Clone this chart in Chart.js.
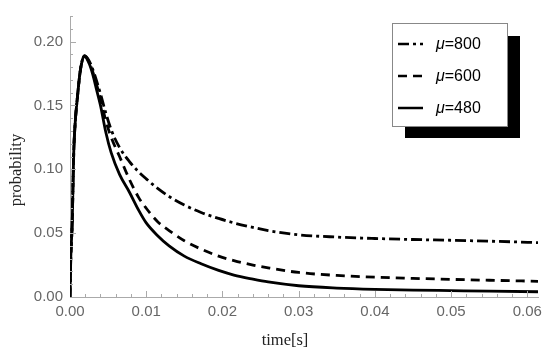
<!DOCTYPE html>
<html>
<head>
<meta charset="utf-8">
<script src="https://cdn.jsdelivr.net/npm/chart.js@4.4.1/dist/chart.umd.min.js"></script>
<style>
  html, body { margin: 0; padding: 0; background: #fff; }
  #wrap { width: 550px; height: 355px; }
</style>
</head>
<body>
<div id="wrap"><canvas id="chart" width="550" height="355"></canvas></div>
<script>
// time axis (seconds), shared by the three curves
const times = [0, 0.0001, 0.0003, 0.0004, 0.0005, 0.0007, 0.001, 0.0013, 0.0016, 0.0019,
  0.0025, 0.003, 0.0035, 0.004, 0.0047, 0.0054, 0.0065, 0.0078, 0.009, 0.01,
  0.0115, 0.013, 0.015, 0.0172, 0.0195, 0.0215, 0.024, 0.026, 0.03, 0.035,
  0.04, 0.045, 0.05, 0.055, 0.0614];

// probability
const prob800 = [0, 0.03, 0.06, 0.09, 0.115, 0.138, 0.158, 0.175, 0.185, 0.1887,
  0.185, 0.178, 0.169, 0.159, 0.144, 0.131, 0.117, 0.106, 0.098, 0.0925,
  0.085, 0.0787, 0.072, 0.0662, 0.0615, 0.058, 0.0545, 0.052, 0.0487, 0.0469,
  0.0458, 0.045, 0.0444, 0.0437, 0.0426];
const prob600 = [0, 0.03, 0.06, 0.09, 0.115, 0.138, 0.158, 0.175, 0.185, 0.1887,
  0.184, 0.176, 0.166, 0.155, 0.138, 0.125, 0.110, 0.092, 0.078, 0.0695,
  0.059, 0.052, 0.044, 0.0375, 0.032, 0.0285, 0.025, 0.0228, 0.0192, 0.0169,
  0.0155, 0.0146, 0.0138, 0.0131, 0.0123];
const prob480 = [0, 0.03, 0.06, 0.09, 0.115, 0.138, 0.158, 0.175, 0.185, 0.1887,
  0.183, 0.174, 0.162, 0.150, 0.129, 0.113, 0.096, 0.082, 0.068, 0.058,
  0.048, 0.040, 0.032, 0.026, 0.0208, 0.0172, 0.014, 0.0118, 0.0088, 0.007,
  0.006, 0.0054, 0.005, 0.0046, 0.0041];

const seriesLabels = ['800', '600', '480'];
const xTicks = [0, 0.01, 0.02, 0.03, 0.04, 0.05, 0.06];
const yTicks = [0, 0.05, 0.10, 0.15, 0.20];

const pts = arr => arr.map((v, i) => ({ x: times[i], y: v }));

const dashes = [[11, 4, 3, 4], [9, 6], []];
const tickFont = { family: '"Liberation Sans", Arial, sans-serif', size: 15 };

// ticks drawn inward, axis titles, and the boxed legend with its shadow
const decor = {
  id: 'decor',
  afterDraw(chart) {
    const ctx = chart.ctx;
    const xs = chart.scales.x, ys = chart.scales.y;
    const x0 = xs.left, y0 = ys.bottom;
    ctx.save();
    ctx.strokeStyle = '#aaa';
    ctx.lineWidth = 1;
    ctx.beginPath();
    for (let i = 1; i <= 30; i++) {
      const v = i * 0.002;
      if (v > xs.max) break;
      const px = Math.round(xs.getPixelForValue(v)) + 0.5;
      const len = i % 5 === 0 ? 6 : 3;
      ctx.moveTo(px, y0); ctx.lineTo(px, y0 - len);
    }
    for (let i = 1; i <= 22; i++) {
      const py = Math.round(ys.getPixelForValue(i * 0.01)) + 0.5;
      const len = i % 5 === 0 ? 6 : 3;
      ctx.moveTo(x0, py); ctx.lineTo(x0 + len, py);
    }
    ctx.stroke();

    // axis titles
    ctx.fillStyle = '#222';
    ctx.font = '16.5px "Liberation Serif", serif';
    ctx.textAlign = 'center';
    ctx.textBaseline = 'middle';
    ctx.fillText('time[s]', 285, 341);
    ctx.translate(17, 170);
    ctx.rotate(-Math.PI / 2);
    ctx.fillText('probability', 0, 0);
    ctx.setTransform(1, 0, 0, 1, 0, 0);

    // legend
    ctx.fillStyle = '#000';
    ctx.fillRect(405, 36, 115, 102);
    ctx.fillStyle = '#fff';
    ctx.fillRect(392, 23, 115, 103);
    ctx.strokeStyle = '#888';
    ctx.strokeRect(392.5, 23.5, 115, 103);
    chart.data.datasets.forEach((ds, i) => {
      const y = 44 + i * 32;
      ctx.strokeStyle = '#000';
      ctx.lineWidth = 2.5;
      ctx.setLineDash(ds.borderDash);
      ctx.beginPath();
      ctx.moveTo(398, y); ctx.lineTo(423, y);
      ctx.stroke();
      ctx.setLineDash([]);
      ctx.fillStyle = '#000';
      ctx.textAlign = 'left';
      ctx.font = 'italic 16px "Liberation Sans", Arial, sans-serif';
      ctx.fillText('\u03bc', 436, y + 1);
      const w = ctx.measureText('\u03bc').width;
      ctx.font = '16px "Liberation Sans", Arial, sans-serif';
      ctx.fillText('=' + seriesLabels[i], 436 + w, y + 1);
    });
    ctx.restore();
  }
};

new Chart(document.getElementById('chart'), {
  type: 'line',
  data: {
    datasets: [prob800, prob600, prob480].map((arr, i) => ({
      label: '\u03bc=' + seriesLabels[i],
      data: pts(arr),
      borderColor: '#000',
      borderWidth: 2.8,
      borderDash: dashes[i],
      pointRadius: 0,
      cubicInterpolationMode: 'monotone',
      fill: false
    }))
  },
  options: {
    responsive: false,
    animation: false,
    layout: { padding: { left: 0, right: 12, top: 10, bottom: 0 } },
    plugins: { legend: { display: false }, tooltip: { enabled: false } },
    scales: {
      x: {
        type: 'linear',
        min: 0,
        max: 0.0614,
        afterFit: s => { s.height = 58; },
        afterBuildTicks: s => { s.ticks = xTicks.map(v => ({ value: v })); },
        grid: { display: false, drawTicks: false },
        border: { display: true, color: '#aaa', width: 1 },
        ticks: {
          padding: 6,
          color: '#666',
          font: tickFont,
          maxRotation: 0,
          callback: v => v.toFixed(2)
        }
      },
      y: {
        min: 0,
        max: 0.22,
        afterFit: s => { s.width = 70; },
        afterBuildTicks: s => { s.ticks = yTicks.map(v => ({ value: v })); },
        grid: { display: false, drawTicks: false },
        border: { display: true, color: '#aaa', width: 1 },
        ticks: {
          padding: 7,
          color: '#666',
          font: tickFont,
          callback: v => v.toFixed(2)
        }
      }
    }
  },
  plugins: [decor]
});
</script>
</body>
</html>
